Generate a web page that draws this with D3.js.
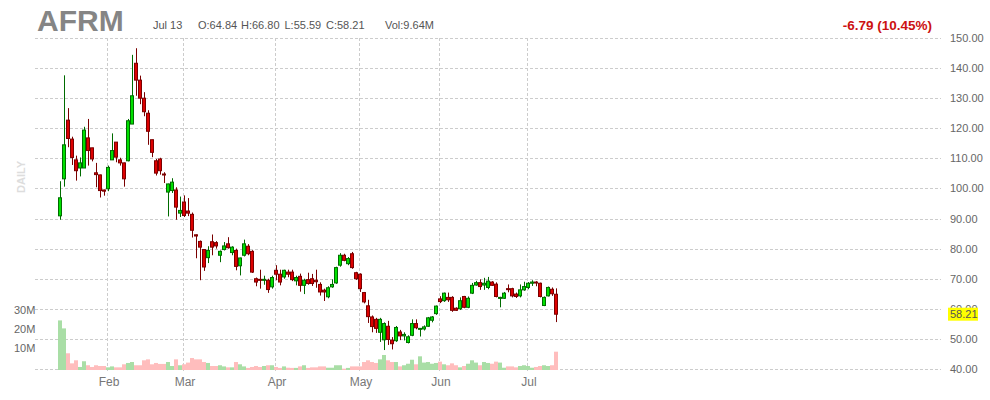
<!DOCTYPE html>
<html><head><meta charset="utf-8">
<script src="https://cdn.jsdelivr.net/npm/d3@7"></script>
<style>html,body{margin:0;padding:0;background:#fff;}svg{display:block;font-family:"Liberation Sans",Arial,sans-serif;}</style>
</head><body><div id="chart"></div>
<script>
const dates = [
"2021-01-13","2021-01-14","2021-01-15","2021-01-19","2021-01-20","2021-01-21","2021-01-22","2021-01-25","2021-01-26","2021-01-27","2021-01-28","2021-01-29",
"2021-02-01","2021-02-02","2021-02-03","2021-02-04","2021-02-05","2021-02-08","2021-02-09","2021-02-10","2021-02-11","2021-02-12","2021-02-16","2021-02-17","2021-02-18","2021-02-19","2021-02-22","2021-02-23","2021-02-24","2021-02-25","2021-02-26",
"2021-03-01","2021-03-02","2021-03-03","2021-03-04","2021-03-05","2021-03-08","2021-03-09","2021-03-10","2021-03-11","2021-03-12","2021-03-15","2021-03-16","2021-03-17","2021-03-18","2021-03-19","2021-03-22","2021-03-23","2021-03-24","2021-03-25","2021-03-26","2021-03-29","2021-03-30","2021-03-31",
"2021-04-01","2021-04-05","2021-04-06","2021-04-07","2021-04-08","2021-04-09","2021-04-12","2021-04-13","2021-04-14","2021-04-15","2021-04-16","2021-04-19","2021-04-20","2021-04-21","2021-04-22","2021-04-23","2021-04-26","2021-04-27","2021-04-28","2021-04-29","2021-04-30",
"2021-05-03","2021-05-04","2021-05-05","2021-05-06","2021-05-07","2021-05-10","2021-05-11","2021-05-12","2021-05-13","2021-05-14","2021-05-17","2021-05-18","2021-05-19","2021-05-20","2021-05-21","2021-05-24","2021-05-25","2021-05-26","2021-05-27","2021-05-28",
"2021-06-01","2021-06-02","2021-06-03","2021-06-04","2021-06-07","2021-06-08","2021-06-09","2021-06-10","2021-06-11","2021-06-14","2021-06-15","2021-06-16","2021-06-17","2021-06-18","2021-06-21","2021-06-22","2021-06-23","2021-06-24","2021-06-25","2021-06-28","2021-06-29","2021-06-30",
"2021-07-01","2021-07-02","2021-07-06","2021-07-07","2021-07-08","2021-07-09","2021-07-12","2021-07-13"];

const open = [90.9,103.2,122.7,116.4,109.5,106.8,106.8,116.8,113.5,105.2,104.5,99.5,
99.9,109.5,115.4,109.5,108.5,109.2,121.4,141.6,136.0,130.0,125.0,116.2,109.2,109.8,104.8,98.8,99.3,99.5,91.8,
95.5,92.5,91.4,84.6,82.4,79.7,77.0,82.3,82.0,77.8,79.7,81.6,78.7,79.4,74.3,77.8,80.8,79.1,70.0,69.8,69.6,69.5,67.3,
72.8,71.5,70.6,72.2,72.2,69.3,70.8,67.8,69.7,70.0,69.5,68.1,66.2,64.0,67.3,68.6,74.5,77.8,75.0,78.3,72.0,
71.5,65.4,61.0,57.3,56.5,52.2,49.7,54.2,49.6,49.4,52.3,51.0,48.8,51.2,55.1,53.2,53.3,54.2,56.2,58.4,
63.3,62.7,63.8,63.8,60.2,60.0,64.1,60.5,65.2,67.9,68.7,67.9,67.1,68.9,68.2,63.5,63.5,66.7,66.7,64.9,64.3,66.3,
67.1,68.5,68.9,68.5,61.1,64.3,66.5,64.84];
const high = [102.4,137.6,126.7,117.2,110.9,110.3,120.5,123.1,113.5,108.5,104.6,99.6,
107.6,118.3,115.4,110.2,108.6,123.1,144.4,146.6,137.5,132.0,126.0,116.2,109.8,110.2,105.4,101.6,103.4,100.4,97.3,
97.7,96.8,92.0,84.7,82.7,79.7,80.8,84.7,82.5,79.4,82.2,83.8,80.8,80.0,77.0,83.0,81.5,79.5,70.4,73.0,71.0,70.0,71.0,
74.5,73.0,73.0,73.0,73.0,71.0,71.7,70.0,72.0,71.6,73.0,68.8,66.7,67.5,69.8,74.0,78.5,78.3,77.2,78.9,72.3,
71.8,65.6,63.0,57.8,57.0,57.0,55.5,56.0,50.6,54.3,53.0,52.2,51.2,56.5,56.5,53.5,54.5,57.3,57.6,61.1,
64.2,65.4,65.4,64.2,60.5,63.8,64.3,64.1,68.6,69.3,69.8,70.3,70.6,69.2,68.8,64.0,65.6,68.1,67.0,65.4,68.1,69.0,
68.9,69.5,69.2,68.7,64.1,67.4,67.1,66.80];
const low = [89.6,100.6,113.7,107.8,102.6,104.0,106.8,107.6,109.0,100.4,97.0,97.6,
99.1,109.5,108.7,107.6,100.6,109.0,121.4,130.8,128.0,124.0,114.5,110.4,104.3,104.6,101.8,90.7,98.5,89.6,90.5,
90.5,90.8,83.7,76.8,69.5,72.6,75.2,77.8,80.0,75.5,79.4,80.0,77.8,72.8,71.1,77.4,77.8,71.9,67.5,66.7,68.0,65.3,66.7,
69.5,67.8,70.0,70.5,69.2,67.8,65.7,64.9,68.0,67.6,67.0,64.4,62.6,63.5,67.0,68.3,74.0,75.8,74.5,73.3,69.6,
65.6,61.8,55.3,52.2,52.0,49.0,46.3,48.0,46.5,49.0,49.6,49.5,48.5,50.9,53.2,50.8,52.8,54.0,55.5,58.0,
61.9,62.3,62.3,59.0,59.3,59.6,60.2,60.2,64.9,67.7,66.3,66.3,66.5,67.6,63.8,60.5,63.3,65.5,63.8,63.6,63.8,66.0,
66.5,67.6,67.5,63.8,60.9,64.1,64.3,55.59];
const close = [96.9,114.5,116.6,110.3,105.9,108.5,119.4,112.6,109.8,104.6,99.3,99.1,
107.0,112.6,110.4,108.5,103.2,122.5,130.8,136.0,130.0,125.5,119.0,112.0,105.1,105.9,104.6,101.5,102.1,93.8,92.7,
91.0,91.8,86.1,84.2,80.5,73.9,79.4,80.5,80.9,79.1,80.9,80.3,80.5,74.1,76.9,81.6,78.3,72.2,68.9,69.6,69.8,66.4,70.4,
71.5,68.9,72.8,71.5,69.7,70.4,67.8,69.5,68.4,68.4,69.0,65.6,65.6,67.0,68.1,73.7,77.8,76.1,76.7,73.7,70.0,
66.7,62.3,57.4,54.1,53.5,56.5,55.1,49.8,48.4,53.8,51.0,51.5,50.7,55.1,53.7,53.5,54.0,57.0,57.3,60.9,
62.4,65.2,63.0,59.5,59.5,62.7,60.5,63.5,67.8,68.7,67.4,68.5,69.2,67.8,64.1,63.8,65.2,66.5,64.3,64.1,66.3,67.4,
68.5,68.9,68.6,64.1,63.8,67.1,65.0,58.21];
// volume in millions
const volume = [26.1,21.9,8.8,3.5,5.1,1.6,4.6,2.5,1.6,2.5,2.1,2.1,
1.4,1.9,1.4,1.4,3.0,3.7,4.2,2.5,2.5,5.1,5.6,3.0,3.7,3.2,3.2,4.2,2.1,5.6,2.5,
3.0,3.9,6.3,5.6,5.6,4.2,3.7,2.1,2.1,2.5,1.9,1.4,1.4,4.2,3.0,1.9,1.1,1.6,2.1,1.6,2.1,2.5,2.5,
1.6,1.1,1.9,1.2,1.1,1.1,1.9,2.5,1.1,1.4,1.4,1.9,1.9,1.2,1.2,2.5,2.5,0.7,1.1,1.9,1.9,
1.9,4.2,5.1,4.2,3.7,5.6,7.9,5.1,4.2,4.2,1.9,2.5,3.3,5.4,3.0,7.2,3.9,4.2,3.3,3.7,
4.4,3.0,2.5,3.5,2.5,1.4,2.1,3.3,5.1,3.9,2.5,4.2,3.7,3.3,4.4,3.9,1.2,1.9,1.9,1.4,2.1,2.5,
2.1,1.2,1.6,2.1,2.5,2.1,2.5,9.64];

const priceTicks = [40,50,60,70,80,90,100,110,120,130,140,150];
const volTicks = [10,20,30];
const monthNames = ["Jan","Feb","Mar","Apr","May","Jun","Jul","Aug","Sep","Oct","Nov","Dec"];
const symbol = "AFRM";
const lastDateLabel = "Jul 13";
const ohlcLabels = ["O:64.84","H:66.80","L:55.59","C:58.21"];
const volLabel = "Vol:9.64M";
const changeLabel = "-6.79 (10.45%)";
const sideLabel = "DAILY";

const W = 990, H = 400;
const svg = d3.select("#chart").append("svg").attr("width", W).attr("height", H);
svg.append("rect").attr("width", W).attr("height", H).attr("fill", "#fff");

const parse = d3.timeParse("%Y-%m-%d");
const data = dates.map((d, i) => ({i, date: parse(d), o: open[i], h: high[i], l: low[i], c: close[i], v: volume[i]}));

const x = d3.scaleLinear().domain([0, dates.length - 1]).range([60, 556]);
const y = d3.scaleLinear().domain([40, 150]).range([369, 38]);
const yv = d3.scaleLinear().domain([0, 30]).range([370, 313]);

const gridL = 35, gridR = 941;

// horizontal grid
svg.append("g").selectAll("line").data(priceTicks).join("line")
  .attr("x1", gridL).attr("x2", gridR)
  .attr("y1", d => Math.round(y(d)) + 0.5).attr("y2", d => Math.round(y(d)) + 0.5)
  .attr("stroke", "#cccccc").attr("stroke-dasharray", "3,2").attr("stroke-width", 1);

// month starts
const monthStarts = data.filter((d, k) => k > 0 && d.date.getMonth() !== data[k - 1].date.getMonth());
svg.append("g").selectAll("line").data(monthStarts).join("line")
  .attr("x1", d => Math.round(x(d.i)) - 0.5).attr("x2", d => Math.round(x(d.i)) - 0.5)
  .attr("y1", 38).attr("y2", 371)
  .attr("stroke", "#cccccc").attr("stroke-dasharray", "3,2").attr("stroke-width", 1);

svg.append("g").selectAll("text").data(monthStarts).join("text")
  .attr("x", d => x(d.i) + 1).attr("y", 386).attr("text-anchor", "middle")
  .attr("font-size", 12).attr("fill", "#777")
  .text(d => monthNames[d.date.getMonth()]);

// volume bars
svg.append("g").selectAll("rect").data(data).join("rect")
  .attr("x", d => x(d.i) - 2).attr("width", 4)
  .attr("y", d => yv(d.v)).attr("height", d => yv(0) - yv(d.v))
  .attr("fill", d => d.c >= d.o ? "#a9dea6" : "#ffbdbd");

// volume tick labels
svg.append("g").selectAll("text").data(volTicks).join("text")
  .attr("x", 14).attr("y", d => yv(d)).attr("dy", "0.1em")
  .attr("font-size", 11).attr("fill", "#666")
  .text(d => d + "M");

// candles
const cg = svg.append("g");
cg.selectAll("line").data(data).join("line")
  .attr("x1", d => Math.round(x(d.i)) + 0.5).attr("x2", d => Math.round(x(d.i)) + 0.5)
  .attr("y1", d => y(d.h)).attr("y2", d => y(d.l))
  .attr("stroke", d => d.c >= d.o ? "#006b00" : "#7a0000").attr("stroke-width", 1);
cg.selectAll("rect").data(data).join("rect")
  .attr("x", d => Math.round(x(d.i)) - 1.5).attr("width", 3)
  .attr("y", d => y(Math.max(d.o, d.c))).attr("height", d => Math.max(1, Math.abs(y(d.o) - y(d.c))))
  .attr("fill", d => d.c >= d.o ? "#00e000" : "#dd0000")
  .attr("stroke", d => d.c >= d.o ? "#006b00" : "#7a0000").attr("stroke-width", 1);

// price axis
const axis = d3.axisRight(y).tickValues(priceTicks).tickSize(0).tickPadding(0).tickFormat(d3.format(".2f"));
const ag = svg.append("g").attr("transform", "translate(950,0)").call(axis);
ag.select(".domain").remove();
ag.selectAll("text").attr("font-size", 11).attr("fill", "#666").attr("font-family", "Liberation Sans, Arial, sans-serif");

// last price tag
const last = data[data.length - 1];
svg.append("rect").attr("x", 948).attr("y", y(last.c) - 6.5).attr("width", 30).attr("height", 13).attr("fill", "#ffff00");
svg.append("text").attr("x", 950).attr("y", y(last.c)).attr("dy", "0.35em")
  .attr("font-size", 11).attr("fill", "#555").text(d3.format(".2f")(last.c));

// header
svg.append("text").attr("x", 37).attr("y", 31).attr("font-size", 30).attr("font-weight", "bold").attr("fill", "#858585").text(symbol);
svg.append("text").attr("x", 153).attr("y", 29).attr("font-size", 11).attr("fill", "#555").text(lastDateLabel);
const ohlcX = [198, 241, 284.5, 326];
svg.append("g").selectAll("text").data(ohlcLabels).join("text")
  .attr("x", (d, k) => ohlcX[k]).attr("y", 29).attr("font-size", 11).attr("fill", "#555").text(d => d);
svg.append("text").attr("x", 385).attr("y", 29).attr("font-size", 11).attr("fill", "#555").text(volLabel);
svg.append("text").attr("x", 932).attr("y", 30).attr("text-anchor", "end").attr("font-size", 13.5).attr("font-weight", "bold").attr("fill", "#cc1111").text(changeLabel);

svg.append("text").attr("transform", "translate(25,177) rotate(-90)").attr("text-anchor", "middle")
  .attr("font-size", 11).attr("font-weight", "bold").attr("fill", "#dddddd").text(sideLabel);
</script></body></html>
